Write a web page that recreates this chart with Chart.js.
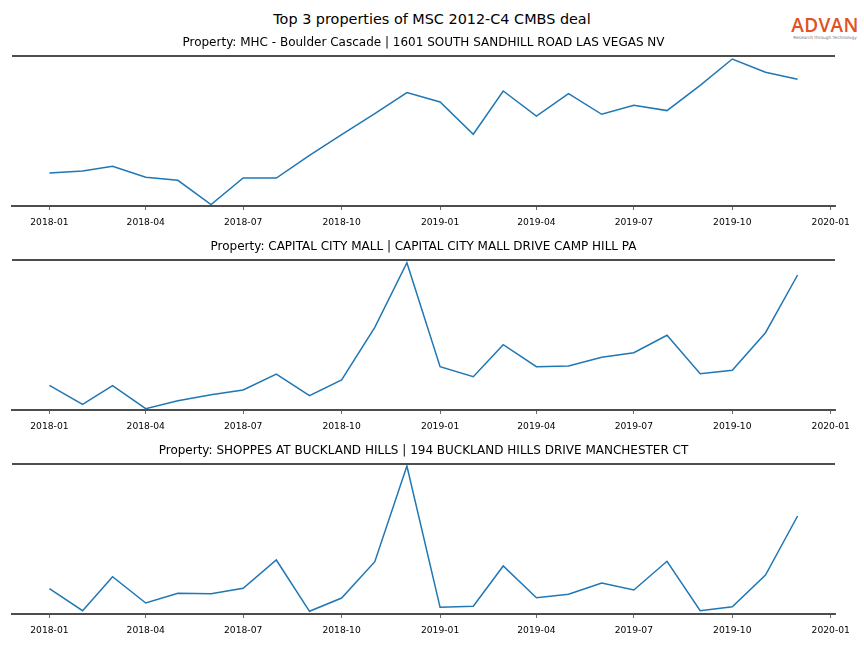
<!DOCTYPE html>
<html>
<head>
<meta charset="utf-8">
<script src="https://cdn.jsdelivr.net/npm/chart.js@4"></script>
<style>
  body { margin: 0; background: #fff; width: 864px; height: 648px; position: relative; overflow: hidden; font-family: "DejaVu Sans", sans-serif; }
  .main-title { position: absolute; top: 11px; left: 0; width: 864px; text-align: center; font-size: 14.4px; color: #000; }
  .logo { position: absolute; left: 789px; top: 16px; width: 72px; text-align: center; }
  .logo .brand { font-family: "Open Sans", sans-serif; font-size: 19px; font-weight: 600; color: #e0521f; letter-spacing: 0.3px; line-height: 19px; }
  .logo .tag { font-family: "DejaVu Sans", sans-serif; font-size: 4.3px; color: #777; line-height: 5px; white-space: nowrap; }
  canvas { position: absolute; left: 0; }
</style>
</head>
<body>
<div class="main-title">Top 3 properties of MSC 2012-C4 CMBS deal</div>
<div class="logo"><div class="brand">ADVAN</div><div class="tag">Research through Technology</div></div>
<canvas id="c0" width="864" height="196" style="top:32px"></canvas>
<canvas id="c1" width="864" height="196" style="top:236px"></canvas>
<canvas id="c2" width="864" height="196" style="top:440px"></canvas>
<script>
// monthly observations, 2018-01 .. 2019-12
const months = ['2018-01','2018-02','2018-03','2018-04','2018-05','2018-06','2018-07','2018-08','2018-09','2018-10','2018-11','2018-12',
                '2019-01','2019-02','2019-03','2019-04','2019-05','2019-06','2019-07','2019-08','2019-09','2019-10','2019-11','2019-12'];
const tickLabels = ['2018-01','2018-04','2018-07','2018-10','2019-01','2019-04','2019-07','2019-10','2020-01'];

const propertyTitles = [
  'Property: MHC - Boulder Cascade | 1601 SOUTH SANDHILL ROAD LAS VEGAS NV',
  'Property: CAPITAL CITY MALL | CAPITAL CITY MALL DRIVE CAMP HILL PA',
  'Property: SHOPPES AT BUCKLAND HILLS | 194 BUCKLAND HILLS DRIVE MANCHESTER CT'
];

// values (relative scale, no y labels in the original)
const boulderCascade = [33, 35, 39.7, 28.7, 25.7, 1.4, 28, 28, 50.7, 71.4, 92.4, 113.4,
                        104, 71.7, 115, 90, 112.4, 91.7, 100.7, 95.4, 120.7, 147, 133.7, 126.7];
const capitalCity = [24.7, 5.7, 24.3, 1.3, 9.3, 15.3, 20, 36, 14.3, 30, 82.7, 147.3,
                     43.3, 33.3, 65.3, 43.3, 44, 52.7, 57.3, 74.7, 36.3, 39.7, 77.3, 135];
const bucklandHills = [25.3, 3.3, 37.3, 11, 20.7, 20.3, 25.7, 54, 2.7, 16, 52.3, 148,
                       6.7, 7.7, 48, 16.3, 19.7, 31, 24, 52.7, 3.3, 7.3, 39, 98];

const seriesList = [boulderCascade, capitalCity, bucklandHills];

function dayIndex(m) {
  const [y, mo] = m.split('-').map(Number);
  return (Date.UTC(y, mo - 1, 1) - Date.UTC(2018, 0, 1)) / 86400000;
}

const span = dayIndex(months[months.length - 1]) - dayIndex(months[0]);
const xMin = dayIndex(months[0]) - span * 0.05;
const xMax = dayIndex(months[months.length - 1]) + span * 0.05;

// top spine
const topSpine = {
  id: 'topSpine',
  afterDraw(chart) {
    const { ctx, chartArea } = chart;
    ctx.save();
    ctx.strokeStyle = '#4d4d4d';
    ctx.lineWidth = 2;
    ctx.beginPath();
    ctx.moveTo(chartArea.left, chartArea.top);
    ctx.lineTo(chartArea.right, chartArea.top);
    ctx.stroke();
    ctx.restore();
  }
};

seriesList.forEach((values, i) => {
  const ctx = document.getElementById('c' + i).getContext('2d');
  new Chart(ctx, {
    type: 'line',
    data: {
      datasets: [{
        data: months.map((m, k) => ({ x: dayIndex(m), y: values[k] })),
        borderColor: '#1f77b4',
        borderWidth: 1.5,
        pointRadius: 0,
        tension: 0,
        clip: false
      }]
    },
    options: {
      responsive: false,
      animation: false,
      layout: { padding: { left: 12, right: 29, top: 0, bottom: 0 } },
      plugins: {
        legend: { display: false },
        tooltip: { enabled: false },
        title: {
          display: true,
          text: propertyTitles[i],
          fullSize: false,
          color: '#000',
          font: { family: 'DejaVu Sans', size: 12, weight: 'normal', lineHeight: 1.2 },
          padding: { top: 3.6, bottom: 6 }
        }
      },
      scales: {
        x: {
          type: 'linear',
          min: xMin,
          max: xMax,
          afterBuildTicks: (s) => { s.ticks = tickLabels.map(t => ({ value: dayIndex(t) })); },
          afterFit: (s) => { s.height = 22; s.paddingLeft = 0; s.paddingRight = 0; },
          grid: { drawOnChartArea: false, drawTicks: true, tickLength: 4, color: '#444', lineWidth: 0.8 },
          border: { display: true, color: '#4d4d4d', width: 2 },
          ticks: {
            autoSkip: false,
            maxRotation: 0,
            padding: 7.5,
            color: '#000',
            font: { family: 'DejaVu Sans', size: 9.2 },
            callback: (v) => {
              const t = tickLabels.find(l => dayIndex(l) === v);
              return t || '';
            }
          }
        },
        y: {
          display: false,
          min: 0,
          max: 150
        }
      }
    },
    plugins: [topSpine]
  });
});
</script>
</body>
</html>
